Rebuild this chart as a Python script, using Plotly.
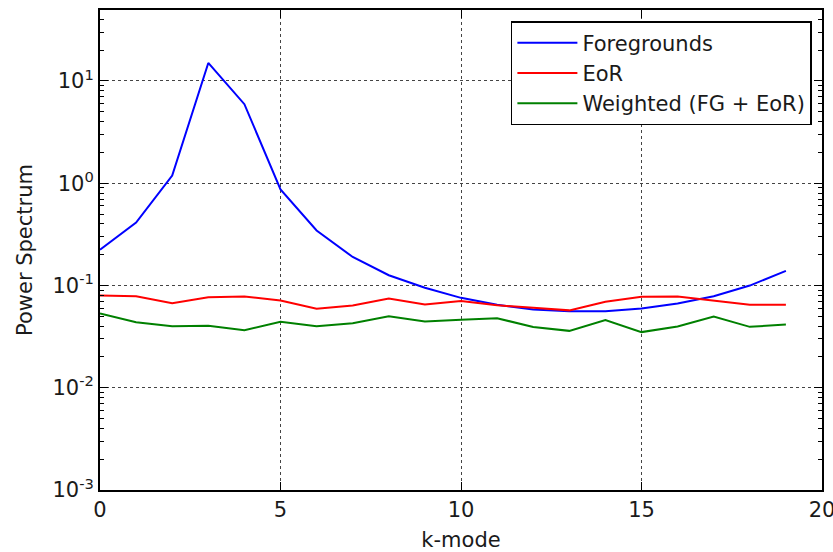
import plotly.graph_objects as go

k_mode = list(range(20))
foregrounds = [0.224, 0.413, 1.19, 15.0, 5.93, 0.87, 0.345, 0.19, 0.126, 0.095,
               0.0757, 0.0647, 0.0582, 0.056, 0.056, 0.0595, 0.0667, 0.0785, 0.0998, 0.139]
eor = [0.0797, 0.0785, 0.0671, 0.0767, 0.078, 0.0713, 0.0591, 0.0637, 0.0745, 0.0652,
       0.0705, 0.064, 0.0604, 0.0571, 0.0692, 0.0774, 0.078, 0.0713, 0.0647, 0.0647]
weighted = [0.0532, 0.0438, 0.040, 0.0403, 0.0366, 0.0441, 0.040, 0.0428, 0.050, 0.0445,
            0.0462, 0.0479, 0.0392, 0.036, 0.0458, 0.035, 0.0397, 0.0498, 0.0394, 0.0416]

x_ticks = [0, 5, 10, 15, 20]
y_ticks = [1e-3, 1e-2, 1e-1, 1, 10]
y_ticktext = ["10<sup>-3</sup>", "10<sup>-2</sup>", "10<sup>-1</sup>", "10<sup>0</sup>", "10<sup>1</sup>"]
y_minor = [m * d for d in (1e-3, 1e-2, 1e-1, 1, 10) for m in range(2, 10)]

FONT = "DejaVu Sans"
FS = 21

fig = go.Figure()
fig.add_trace(go.Scatter(x=k_mode, y=foregrounds, mode="lines", name="Foregrounds",
                         line=dict(color="#0000ff", width=2)))
fig.add_trace(go.Scatter(x=k_mode, y=eor, mode="lines", name="EoR",
                         line=dict(color="#ff0000", width=2)))
fig.add_trace(go.Scatter(x=k_mode, y=weighted, mode="lines", name="Weighted (FG + EoR)",
                         line=dict(color="#008000", width=2)))

fig.update_layout(
    width=833, height=552,
    margin=dict(l=100, r=11, t=10, b=62, autoexpand=False),
    paper_bgcolor="white", plot_bgcolor="white",
    font=dict(family=FONT, size=FS, color="#1a1a1a"),
    showlegend=True,
    legend=dict(x=0.986, y=0.977, xanchor="right", yanchor="top",
                bordercolor="black", borderwidth=1.5, bgcolor="white",
                font=dict(family=FONT, size=FS, color="#1a1a1a"),
                itemwidth=60, tracegroupgap=3),
)
fig.update_xaxes(
    range=[0, 20], tickvals=x_ticks, ticktext=[str(v) for v in x_ticks],
    ticklabeloverflow="allow", automargin=False,
    showline=True, linecolor="black", linewidth=2, mirror="allticks",
    ticks="inside", ticklen=8, tickcolor="black", tickwidth=1,
    showgrid=True, gridcolor="#444444", griddash="dot", gridwidth=1,
    zeroline=False,
    title=dict(text="k-mode", font=dict(family=FONT, size=FS), standoff=12),
)
fig.update_yaxes(
    type="log", range=[-3, 1.694], tickvals=y_ticks, ticktext=y_ticktext,
    automargin=False,
    showline=True, linecolor="black", linewidth=2, mirror="allticks",
    ticks="inside", ticklen=8, tickcolor="black", tickwidth=1,
    showgrid=True, gridcolor="#444444", griddash="dot", gridwidth=1,
    zeroline=False,
    minor=dict(ticks="inside", ticklen=4, tickcolor="black", tickwidth=1,
               tickvals=y_minor, showgrid=False),
    title=dict(text="Power Spectrum", font=dict(family=FONT, size=FS), standoff=14),
)

fig.write_html("out.html")
